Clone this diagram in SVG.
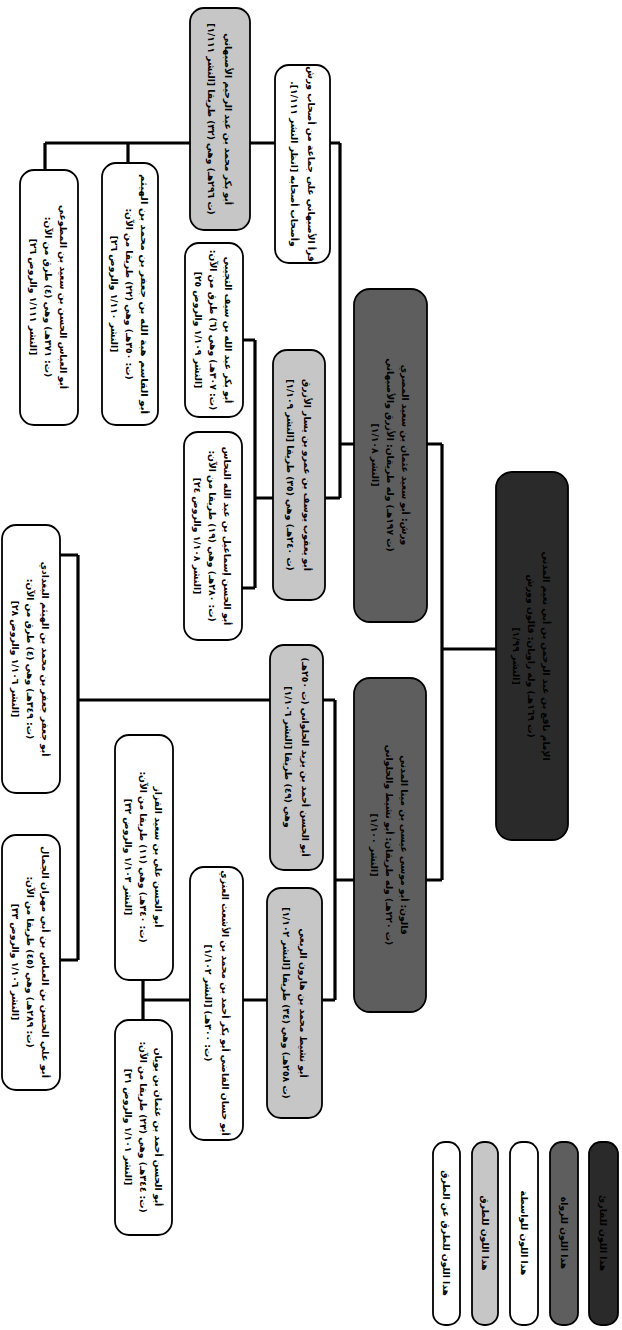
<svg xmlns="http://www.w3.org/2000/svg" width="622" height="1330" viewBox="0 0 622 1330">
<style>
.n{stroke:#000;stroke-width:1.8}
.root{fill:#2a2a2a}
.rawi{fill:#5e5e5e}
.tariq{fill:#c6c6c6}
.wasita{fill:#fff}
.t{font-family:"DejaVu Sans",sans-serif;font-size:9.2px;font-weight:bold;text-anchor:middle;dominant-baseline:central;fill:#000;direction:rtl}
.c{fill:none;stroke:#000;stroke-width:3.2}
</style>
<rect width="622" height="1330" fill="#fff"/>
<g id="connectors" class="c">
<path d="M496,649H442M442,444V880M427,444H442M426,880H442"/>
<path d="M354,444H340M340,143V498M330,143H340M275,143H250M190,143H45M45,143V170M128,143V163M325,498H340"/>
<path d="M273,498H255M255,340V588M243,340H255M242,588H255"/>
<path d="M354,880H335M335,700V1000M323,700H335M322,1000H335"/>
<path d="M270,700H78M78,555V960M60,960H78M60,555H78"/>
<path d="M267,1000H243M190,1000H143M143,980V1020"/>
</g>
<g id="root">
<rect class="n root" x="496" y="472" width="72" height="368" rx="16"/>
<text class="t" transform="translate(532,656) rotate(90)"><tspan x="0" y="-15">الإمام نافع بن عبد الرحمن بن أبي نعيم المدني</tspan><tspan x="0" y="0">(ت ١٦٩هـ) وله راويان: قالون وورش</tspan><tspan x="0" y="15">[النشر ١/٩٩]</tspan></text>
</g>
<g id="rawi-warsh">
<rect class="n rawi" x="354" y="289" width="73" height="333" rx="16"/>
<text class="t" transform="translate(390.5,455) rotate(90)"><tspan x="0" y="-15">ورش: أبو سعيد عثمان بن سعيد المصري</tspan><tspan x="0" y="0">(ت ١٩٧هـ) وله طريقان: الأزرق والأصبهاني</tspan><tspan x="0" y="15">[النشر ١/١٠٨]</tspan></text>
</g>
<g id="rawi-qalun">
<rect class="n rawi" x="354" y="678" width="72" height="334" rx="16"/>
<text class="t" transform="translate(390,845) rotate(90)"><tspan x="0" y="-15">قالون: أبو موسى عيسى بن مينا المدني</tspan><tspan x="0" y="0">(ت ٢٢٠هـ) وله طريقان: أبو نشيط والحلواني</tspan><tspan x="0" y="15">[النشر ١/١٠٠]</tspan></text>
</g>
<g id="w1">
<rect class="n wasita" x="275" y="65" width="55" height="198" rx="14"/>
<text class="t" transform="translate(302.5,164) rotate(90)"><tspan x="0" y="-9">قرأ الأصبهاني على جماعة من أصحاب ورش</tspan><tspan x="0" y="8">وأصحاب أصحابه [انظر النشر ١/١١١].</tspan></text>
</g>
<g id="l1">
<rect class="n tariq" x="190" y="8" width="60" height="222" rx="14"/>
<text class="t" transform="translate(220,119) rotate(90)"><tspan x="0" y="-9">أبو بكر محمد بن عبد الرحيم الأصبهاني</tspan><tspan x="0" y="8">(ت ٢٩٦هـ) وهي (٣٢) طريقا [النشر ١/١١١]</tspan></text>
</g>
<g id="w2">
<rect class="n wasita" x="102" y="163" width="56" height="262" rx="14"/>
<text class="t" transform="translate(130,294) rotate(90)"><tspan x="0" y="-15" textLength="240" lengthAdjust="spacingAndGlyphs">أبو القاسم هبة الله بن جعفر بن محمد بن الهيثم</tspan><tspan x="0" y="0">(ت: ٣٥٠هـ) وهي (٢٢) طريقا من الآن:</tspan><tspan x="0" y="15">[النشر ١/١١٠ والروض ٢٦]</tspan></text>
</g>
<g id="w3">
<rect class="n wasita" x="20" y="170" width="58" height="255" rx="14"/>
<text class="t" transform="translate(49,297) rotate(90)"><tspan x="0" y="-15">أبو العباس الحسن بن سعيد بن المطوعي</tspan><tspan x="0" y="0">(ت: ٣٧١هـ) وهي (٤) طرق من الآن:</tspan><tspan x="0" y="15">[النشر ١/١١١ والروض ٢٦]</tspan></text>
</g>
<g id="l2">
<rect class="n tariq" x="273" y="350" width="52" height="250" rx="14"/>
<text class="t" transform="translate(299,475) rotate(90)"><tspan x="0" y="-9">أبو يعقوب يوسف بن عمرو بن يسار الأزرق</tspan><tspan x="0" y="8">(ت ٢٤٠هـ) وهي (٣٥) طريقا [النشر ١/١٠٩]</tspan></text>
</g>
<g id="w4">
<rect class="n wasita" x="185" y="243" width="58" height="174" rx="14"/>
<text class="t" transform="translate(214,330) rotate(90)"><tspan x="0" y="-15">أبو بكر عبد الله بن سيف التجيبي</tspan><tspan x="0" y="0">(ت: ٣٠٧هـ) وهي (٦) طرق من الآن:</tspan><tspan x="0" y="15">[النشر ١/١٠٩ والروض ٢٥]</tspan></text>
</g>
<g id="w5">
<rect class="n wasita" x="184" y="432" width="58" height="208" rx="14"/>
<text class="t" transform="translate(213,536) rotate(90)"><tspan x="0" y="-15">أبو الحسن إسماعيل بن عبد الله النحاس</tspan><tspan x="0" y="0">(ت: ٢٨٠هـ) وهي (١٩) طريقا من الآن:</tspan><tspan x="0" y="15">[النشر ١/١٠٨ والروض ٢٤]</tspan></text>
</g>
<g id="l3">
<rect class="n tariq" x="270" y="645" width="53" height="225" rx="14"/>
<text class="t" transform="translate(296.5,757) rotate(90)"><tspan x="0" y="-9">أبو الحسن أحمد بن يزيد الحلواني (ت ٢٥٠هـ)</tspan><tspan x="0" y="8">وهي (٤٩) طريقا [النشر ١/١٠٦]</tspan></text>
</g>
<g id="l4">
<rect class="n tariq" x="267" y="888" width="55" height="230" rx="14"/>
<text class="t" transform="translate(294.5,1003) rotate(90)"><tspan x="0" y="-9">أبو نشيط محمد بن هارون الربعي</tspan><tspan x="0" y="8">(ت ٢٥٨هـ) وهي (٣٤) طريقا [النشر ١/١٠٢]</tspan></text>
</g>
<g id="w6">
<rect class="n wasita" x="2" y="525" width="58" height="268" rx="14"/>
<text class="t" transform="translate(31,659) rotate(90)"><tspan x="0" y="-15">أبو جعفر جعفر بن محمد بن الهيثم البغدادي</tspan><tspan x="0" y="0">(ت: ٣٤٩هـ) وهي (٤) طرق من الآن:</tspan><tspan x="0" y="15">[النشر ١/١٠٦ والروض ٢٨]</tspan></text>
</g>
<g id="w7">
<rect class="n wasita" x="2" y="835" width="58" height="255" rx="14"/>
<text class="t" transform="translate(31,962) rotate(90)"><tspan x="0" y="-15" textLength="232" lengthAdjust="spacingAndGlyphs">أبو علي الحسن بن العباس بن أبي مهران الجمال</tspan><tspan x="0" y="0">(ت: ٢٨٩هـ) وهي (٤٥) طريقا من الآن:</tspan><tspan x="0" y="15">[النشر ١/١٠٦ والروض ٣٣]</tspan></text>
</g>
<g id="w8">
<rect class="n wasita" x="115" y="735" width="58" height="245" rx="14"/>
<text class="t" transform="translate(144,857) rotate(90)"><tspan x="0" y="-15">أبو الحسن علي بن سعيد القزاز</tspan><tspan x="0" y="0">(ت: ٣٤٠هـ) وهي (١١) طريقا من الآن:</tspan><tspan x="0" y="15">[النشر ١/١٠٣ والروض ٣٢]</tspan></text>
</g>
<g id="w9">
<rect class="n wasita" x="190" y="867" width="53" height="273" rx="14"/>
<text class="t" transform="translate(216.5,1003) rotate(90)"><tspan x="0" y="-9">أبو حسان القاضي أبو بكر أحمد بن محمد بن الأشعث العنزي</tspan><tspan x="0" y="8">(ت: ٣٠٠هـ) [النشر ١/١٠٢]</tspan></text>
</g>
<g id="w10">
<rect class="n wasita" x="115" y="1020" width="57" height="215" rx="14"/>
<text class="t" transform="translate(143.5,1127) rotate(90)"><tspan x="0" y="-15">أبو الحسن أحمد بن عثمان بن بويان</tspan><tspan x="0" y="0">(ت: ٣٤٤هـ) وهي (٢٣) طريقا من الآن:</tspan><tspan x="0" y="15">[النشر ١/١٠١ والروض ٣١]</tspan></text>
</g>
<g id="legend">
<rect class="n wasita" x="433" y="1142" width="27" height="183" rx="12"/>
<text class="t" transform="translate(446.5,1233) rotate(90)">هذا اللون للطرق عن الطرق</text>
<rect class="n tariq" x="472" y="1142" width="26" height="183" rx="12"/>
<text class="t" transform="translate(485,1233) rotate(90)">هذا اللون للطرق</text>
<rect class="n wasita" x="510" y="1142" width="28" height="183" rx="12"/>
<text class="t" transform="translate(524,1233) rotate(90)">هذا اللون للواسطة</text>
<rect class="n rawi" x="550" y="1142" width="28" height="183" rx="12"/>
<text class="t" transform="translate(564,1233) rotate(90)">هذا اللون للرواة</text>
<rect class="n root" x="589" y="1142" width="29" height="183" rx="12"/>
<text class="t" transform="translate(603.5,1233) rotate(90)">هذا اللون للقارئ</text>
</g>
</svg>
